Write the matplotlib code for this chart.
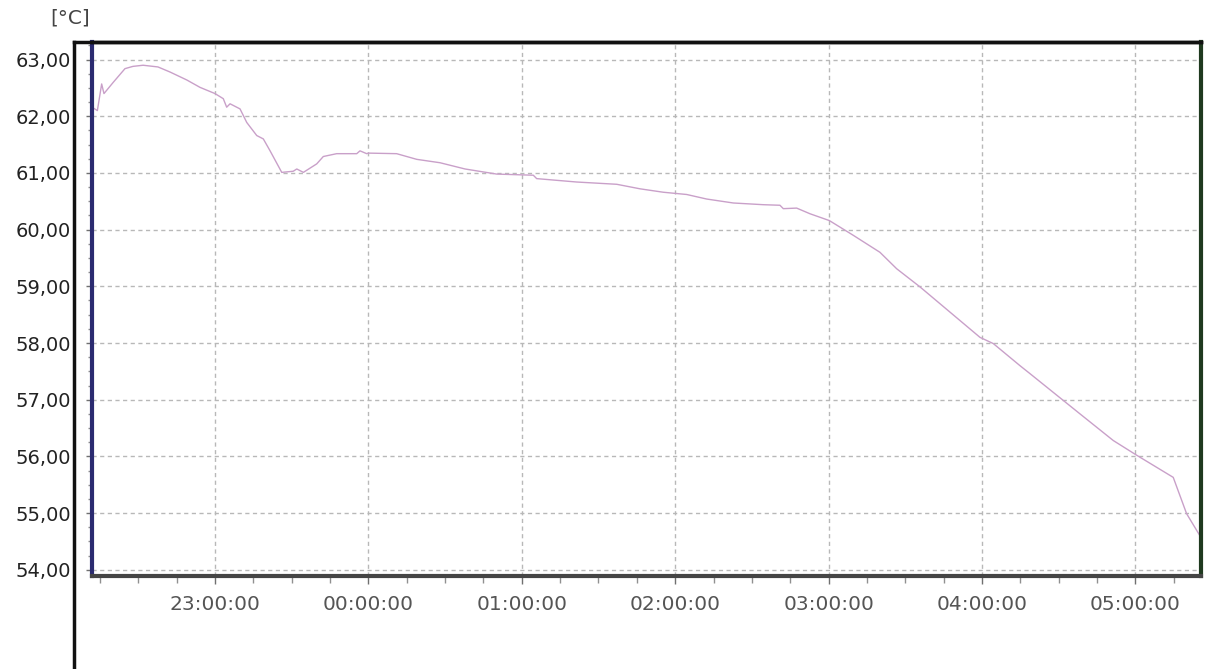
import matplotlib
matplotlib.use("Agg")
import matplotlib.pyplot as plt
from matplotlib.lines import Line2D
from matplotlib.ticker import MultipleLocator, FixedLocator

# time in hours (24 = midnight of the second day), temperature in degC
hours = [22.198, 22.233, 22.261, 22.276, 22.337, 22.413, 22.465, 22.531, 22.628,
         22.707, 22.816, 22.902, 23.000, 23.054, 23.076, 23.098, 23.163, 23.207,
         23.272, 23.315, 23.359, 23.435, 23.510, 23.533, 23.576, 23.663, 23.706,
         23.793, 23.924, 23.945, 23.989, 24.000, 24.184, 24.315, 24.467, 24.630,
         24.836, 25.075, 25.097, 25.358, 25.619, 25.771, 25.922, 26.075, 26.205,
         26.379, 26.574, 26.683, 26.705, 26.792, 26.879, 27.005, 27.161, 27.335,
         27.444, 27.596, 27.987, 28.074, 28.248, 28.313, 28.639, 28.856, 29.009,
         29.247, 29.334, 29.421]
temps = [62.16, 62.10, 62.57, 62.40, 62.60, 62.84, 62.88, 62.90, 62.87,
         62.78, 62.64, 62.51, 62.40, 62.31, 62.16, 62.22, 62.13, 61.89,
         61.66, 61.60, 61.39, 61.01, 61.03, 61.07, 61.01, 61.16, 61.29,
         61.34, 61.34, 61.39, 61.34, 61.35, 61.34, 61.24, 61.18, 61.07,
         60.98, 60.96, 60.90, 60.84, 60.80, 60.72, 60.66, 60.62, 60.54,
         60.47, 60.44, 60.43, 60.37, 60.38, 60.28, 60.16, 59.90, 59.60,
         59.31, 58.99, 58.10, 57.99, 57.60, 57.46, 56.75, 56.28, 56.02,
         55.63, 54.99, 54.60]

x_ticks = [23, 24, 25, 26, 27, 28, 29]
x_labels = ["23:00:00", "00:00:00", "01:00:00", "02:00:00", "03:00:00", "04:00:00", "05:00:00"]
y_ticks = [54, 55, 56, 57, 58, 59, 60, 61, 62, 63]
y_labels = ["54,00", "55,00", "56,00", "57,00", "58,00", "59,00", "60,00", "61,00", "62,00", "63,00"]

fig = plt.figure(figsize=(12.12, 6.69), dpi=100)
ax = fig.add_axes([92/1212, 93/669, 1109/1212, 534/669])

ax.plot(hours, temps, color="#c9a0c9", linewidth=1.0)

ax.set_xlim(22.198, 29.428)
ax.set_ylim(53.89, 63.31)

ax.xaxis.set_major_locator(FixedLocator(x_ticks))
ax.set_xticklabels(x_labels)
ax.xaxis.set_minor_locator(MultipleLocator(0.25))
ax.yaxis.set_major_locator(FixedLocator(y_ticks))
ax.set_yticklabels(y_labels)
ax.yaxis.set_minor_locator(MultipleLocator(0.25))

ax.grid(True, which="major", color="#b8b8b8", linestyle=(0, (3, 2.5)), linewidth=1.0)

ax.tick_params(axis="x", which="major", length=6, width=1, color="#707070",
               labelsize=14.5, labelcolor="#555555", pad=8)
ax.tick_params(axis="x", which="minor", length=5, width=1, color="#909090")
ax.tick_params(axis="y", which="major", length=4, width=1, color="#707070",
               labelsize=14, labelcolor="#222222", pad=11)
ax.tick_params(axis="y", which="minor", length=3, width=1, color="#909090")

ax.spines["left"].set_color("#2b2b70")
ax.spines["left"].set_linewidth(3)
ax.spines["bottom"].set_color("#454545")
ax.spines["bottom"].set_linewidth(3)
ax.spines["right"].set_color("#1f3a1f")
ax.spines["right"].set_linewidth(3)
ax.spines["top"].set_color("#111111")
ax.spines["top"].set_linewidth(2.5)

# outer frame lines (left and top)
fx = 74/1212
fy = 1 - 42/669
fig.add_artist(Line2D([fx, fx], [0, fy], color="#111111", linewidth=2.5, transform=fig.transFigure))
fig.add_artist(Line2D([fx, 1201/1212], [fy, fy], color="#111111", linewidth=2.5, transform=fig.transFigure))

fig.text(70/1212, 1 - 18/669, "[°C]", ha="center", va="center", fontsize=14.5, color="#444444")

fig.savefig("out.png", dpi=100, facecolor="white")
